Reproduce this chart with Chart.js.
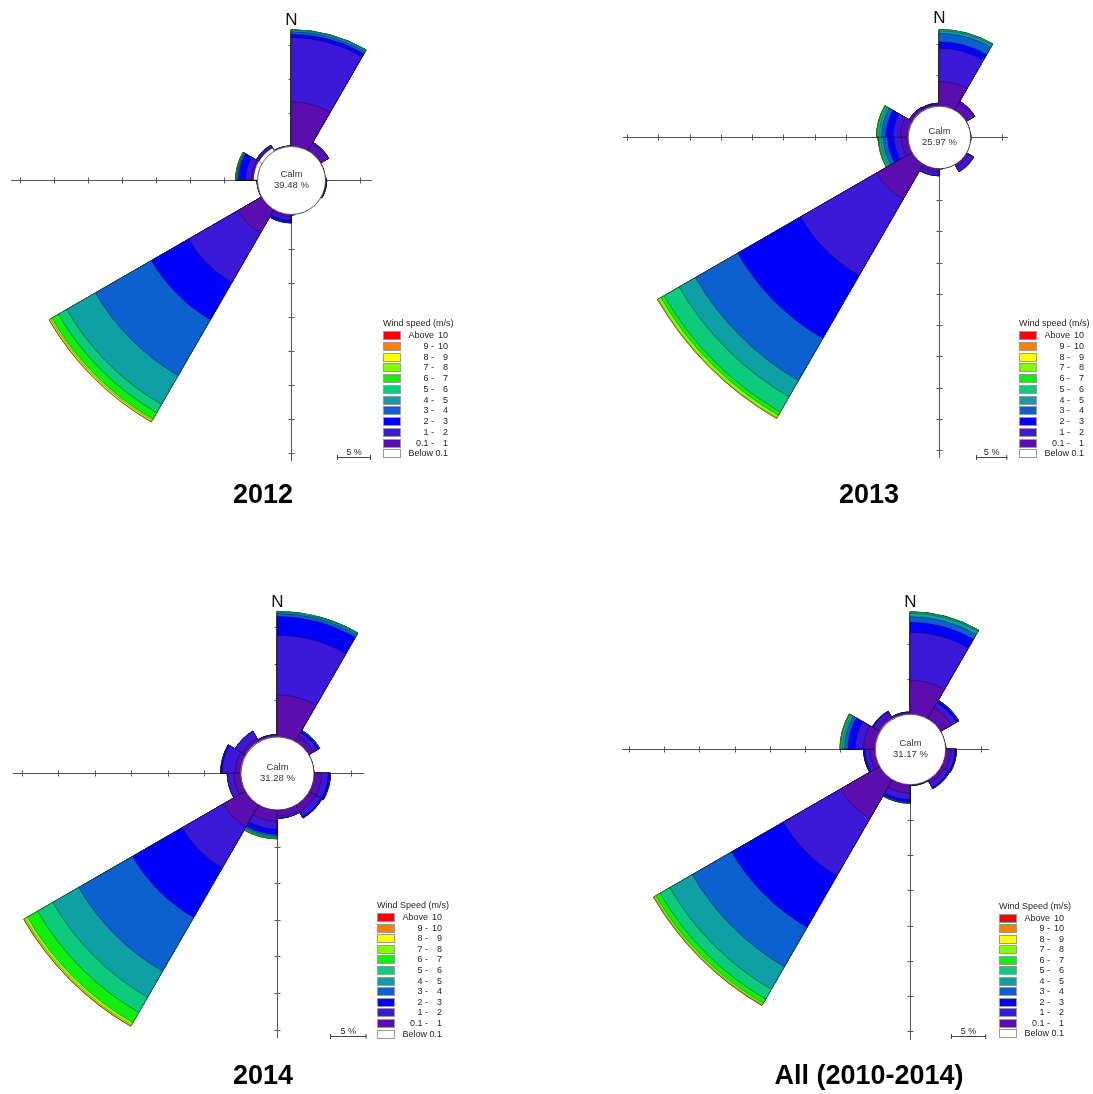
<!DOCTYPE html>
<html>
<head>
<meta charset="utf-8">
<title>Wind roses 2010-2014</title>
<script src="https://cdn.jsdelivr.net/npm/chart.js@4.4.1/dist/chart.umd.min.js"></script>
<style>
  html, body { margin: 0; padding: 0; background: #fff; }
  #page { position: relative; width: 1093px; height: 1094px; overflow: hidden; }
  #page canvas { position: absolute; left: 0; top: 0; }
  .year {
    position: absolute;
    font: bold 27px "Liberation Sans", Arial, sans-serif;
    color: #000;
    transform: translate(-50%, -50%);
    white-space: nowrap;
  }
</style>
</head>
<body>
<div id="page">
  <canvas id="rose2012" width="1093" height="1094"></canvas>
  <canvas id="rose2013" width="1093" height="1094"></canvas>
  <canvas id="rose2014" width="1093" height="1094"></canvas>
  <canvas id="roseAll" width="1093" height="1094"></canvas>
  <div class="year" style="left:263px; top:494px;">2012</div>
  <div class="year" style="left:869px; top:494px;">2013</div>
  <div class="year" style="left:263px; top:1075px;">2014</div>
  <div class="year" style="left:869px; top:1075px;">All (2010-2014)</div>
</div>

<script>
// ==============================
// DATOS
// ==============================
// 12 sectores de 30 grados, empezando en el norte y en sentido horario
const sectors = ["0-30", "30-60", "60-90", "90-120", "120-150", "150-180",
                 "180-210", "210-240", "240-270", "270-300", "300-330", "330-360"];

const speedClasses = ["Below 0.1", "0.1 - 1", "1 - 2", "2 - 3", "3 - 4", "4 - 5",
                      "5 - 6", "6 - 7", "7 - 8", "8 - 9", "9 - 10", "Above 10"];

const speedColors = ["#ffffff", "#5b0db0", "#3c18d8", "#0000ff", "#0c60d0", "#0ea0a4",
                     "#0ccb7c", "#10f010", "#80ff00", "#ffff00", "#ff8000", "#ff0000"];

const tickStep = 5; // %

// frecuencia (%) por clase de velocidad, un valor por sector
// --- 2012 ---
const calm2012 = 39.48;
const f2012_b01 = [0, 0, 0, 0, 0, 0, 0, 0, 0, 0.5, 0.45, 0];
const f2012_c1  = [6.5, 1.2, 0, 0.1, 0, 0, 0.4, 4.0, 0, 0.3, 0.1, 0];
const f2012_c2  = [9.45, 0.2, 0, 0.15, 0, 0, 0.5, 8.4, 0, 0.9, 0.3, 0];
const f2012_c3  = [0.5, 0, 0, 0, 0, 0, 0.35, 6.3, 0, 1.0, 0.05, 0];
const f2012_c4  = [0.35, 0, 0, 0, 0, 0, 0.05, 9.5, 0, 0.15, 0, 0];
const f2012_c5  = [0.25, 0, 0, 0, 0, 0, 0, 4.9, 0, 0.1, 0, 0];
const f2012_c6  = [0.05, 0, 0, 0, 0, 0, 0, 1.4, 0, 0.1, 0, 0];
const f2012_c7  = [0, 0, 0, 0, 0, 0, 0, 1.1, 0, 0.1, 0, 0];
const f2012_c8  = [0, 0, 0, 0, 0, 0, 0, 0.25, 0, 0, 0, 0];
const f2012_c9  = [0, 0, 0, 0, 0, 0, 0, 0.2, 0, 0, 0, 0];
const f2012_c10 = [0, 0, 0, 0, 0, 0, 0, 0.05, 0, 0, 0, 0];
const f2012_c11 = [0, 0, 0, 0, 0, 0, 0, 0, 0, 0, 0, 0];

// --- 2013 ---
const calm2013 = 25.97;
const f2013_b01 = [0, 0, 0, 0, 0, 0, 0, 0, 0, 0, 0, 0];
const f2013_c1  = [3.9, 1.3, 0, 0, 0.5, 0, 0.6, 6.5, 1.0, 1.2, 0.5, 0.2];
const f2013_c2  = [5.3, 0.3, 0, 0, 0.9, 0, 0.6, 14.1, 1.2, 1.2, 0, 0.2];
const f2013_c3  = [1.05, 0, 0, 0, 0, 0, 0, 11.6, 1.0, 1.1, 0, 0];
const f2013_c4  = [1.35, 0, 0, 0, 0, 0, 0, 7.8, 0.7, 0.7, 0, 0];
const f2013_c5  = [0.4, 0, 0, 0, 0, 0, 0, 3.0, 0.4, 0.4, 0, 0];
const f2013_c6  = [0.2, 0, 0, 0, 0, 0, 0, 2.8, 0.3, 0.3, 0, 0];
const f2013_c7  = [0, 0, 0, 0, 0, 0, 0, 0.6, 0.1, 0.1, 0, 0];
const f2013_c8  = [0, 0, 0, 0, 0, 0, 0, 0.5, 0, 0, 0, 0];
const f2013_c9  = [0, 0, 0, 0, 0, 0, 0, 0.1, 0, 0, 0, 0];
const f2013_c10 = [0, 0, 0, 0, 0, 0, 0, 0, 0, 0, 0, 0];
const f2013_c11 = [0, 0, 0, 0, 0, 0, 0, 0, 0, 0, 0, 0];

// --- 2014 ---
const calm2014 = 31.28;
const f2014_b01 = [0, 0, 0, 0, 0, 0, 0, 0, 0, 0, 0, 0];
const f2014_c1  = [5.7, 0.8, 0, 1.1, 1.1, 0.9, 1.6, 3.5, 0.9, 0.7, 0.5, 0.25];
const f2014_c2  = [8.15, 0.6, 0, 0.9, 0.8, 0.3, 1.1, 6.5, 0.9, 1.8, 1.1, 0];
const f2014_c3  = [2.55, 0.2, 0, 0.3, 0.2, 0, 0.7, 7.8, 0, 0.2, 0, 0];
const f2014_c4  = [0.4, 0.1, 0, 0, 0, 0, 0.2, 8.5, 0, 0, 0, 0];
const f2014_c5  = [0.2, 0.05, 0, 0, 0, 0, 0.15, 4.1, 0, 0, 0, 0];
const f2014_c6  = [0.1, 0, 0, 0, 0, 0, 0.15, 2.4, 0, 0, 0, 0];
const f2014_c7  = [0, 0, 0, 0, 0, 0, 0.1, 1.6, 0, 0, 0, 0];
const f2014_c8  = [0, 0, 0, 0, 0, 0, 0, 0.4, 0, 0, 0, 0];
const f2014_c9  = [0, 0, 0, 0, 0, 0, 0, 0.15, 0, 0, 0, 0];
const f2014_c10 = [0, 0, 0, 0, 0, 0, 0, 0.05, 0, 0, 0, 0];
const f2014_c11 = [0, 0, 0, 0, 0, 0, 0, 0, 0, 0, 0, 0];

// --- All (2010-2014) ---
const calmAll = 31.17;
const fAll_b01 = [0, 0, 0, 0, 0, 0, 0, 0, 0, 0, 0, 0];
const fAll_c1  = [4.76, 1.8, 0, 0.8, 0.6, 0.15, 1.27, 6.4, 0.7, 1.6, 0.6, 0.15];
const fAll_c2  = [6.84, 0.8, 0, 0.6, 0.7, 0.05, 0.93, 9.4, 0.7, 1.2, 0.5, 0.1];
const fAll_c3  = [1.4, 0.3, 0, 0.2, 0.2, 0, 0.35, 8.45, 0.2, 1.0, 0.1, 0];
const fAll_c4  = [0.8, 0.1, 0, 0, 0, 0, 0.1, 6.45, 0, 0.5, 0, 0];
const fAll_c5  = [0.5, 0, 0, 0, 0, 0, 0.05, 3.7, 0, 0.3, 0, 0];
const fAll_c6  = [0.15, 0, 0, 0, 0, 0, 0, 1.6, 0, 0.25, 0, 0];
const fAll_c7  = [0.05, 0, 0, 0, 0, 0, 0, 0.7, 0, 0.1, 0, 0];
const fAll_c8  = [0, 0, 0, 0, 0, 0, 0, 0.25, 0, 0, 0, 0];
const fAll_c9  = [0, 0, 0, 0, 0, 0, 0, 0.1, 0, 0, 0, 0];
const fAll_c10 = [0, 0, 0, 0, 0, 0, 0, 0.03, 0, 0, 0, 0];
const fAll_c11 = [0, 0, 0, 0, 0, 0, 0, 0, 0, 0, 0, 0];

// longitud de los ejes (%): arriba, derecha, abajo, izquierda
const axis2012 = [17.0, 6.9, 36.2, 36.3];
const axis2013 = [12.3, 6.0, 46.3, 45.7];
const axis2014 = [17.0, 6.8, 31.1, 31.1];
const axisAll  = [14.4, 6.1, 36.2, 36.0];


// ==============================
// DECORACION: ejes, calma, N, escala, leyenda
// ==============================
const FONT = "'Liberation Sans', Arial, sans-serif";

const roseDecor = {
    id: "roseDecor",
    beforeDatasetsDraw(chart, args, o) {
        const r = chart.scales.r;
        const ctx = chart.ctx;
        const cx = r.xCenter + 0.5;
        const cy = r.yCenter + 0.5;
        const dist = v => r.getDistanceFromCenterForValue(v);
        const [up, right, down, left] = o.axis;

        ctx.save();
        ctx.strokeStyle = "#555";
        ctx.lineWidth = 1;
        ctx.beginPath();
        ctx.moveTo(cx, Math.round(cy - dist(up)));
        ctx.lineTo(cx, Math.round(cy + dist(down)));
        ctx.moveTo(Math.round(cx - dist(left)), cy);
        ctx.lineTo(Math.round(cx + dist(right)), cy);

        for (let v = 0; v <= up; v += tickStep) {
            const y = Math.round(cy - dist(v)) + 0.5;
            ctx.moveTo(cx - 3, y); ctx.lineTo(cx + 3, y);
        }
        for (let v = 0; v <= down; v += tickStep) {
            const y = Math.round(cy + dist(v)) + 0.5;
            ctx.moveTo(cx - 3, y); ctx.lineTo(cx + 3, y);
        }
        for (let v = 0; v <= left; v += tickStep) {
            const x = Math.round(cx - dist(v)) + 0.5;
            ctx.moveTo(x, cy - 3); ctx.lineTo(x, cy + 3);
        }
        for (let v = 0; v <= right; v += tickStep) {
            const x = Math.round(cx + dist(v)) + 0.5;
            ctx.moveTo(x, cy - 3); ctx.lineTo(x, cy + 3);
        }
        ctx.stroke();

        // N
        ctx.fillStyle = "#111";
        ctx.font = "17px " + FONT;
        ctx.textAlign = "center";
        ctx.textBaseline = "alphabetic";
        ctx.fillText("N", cx, cy - dist(up) - 6);
        ctx.restore();
    },
    afterDatasetsDraw(chart, args, o) {
        const r = chart.scales.r;
        const ctx = chart.ctx;
        const cx = r.xCenter + 0.5;
        const cy = r.yCenter + 0.5;
        const dist = v => r.getDistanceFromCenterForValue(v);

        ctx.save();
        // circulo de calma
        ctx.beginPath();
        ctx.arc(cx, cy, dist(0), 0, Math.PI * 2);
        ctx.fillStyle = "#fff";
        ctx.fill();
        ctx.strokeStyle = "#333";
        ctx.lineWidth = 0.8;
        ctx.stroke();

        ctx.fillStyle = "#333";
        ctx.font = "9.5px " + FONT;
        ctx.textAlign = "center";
        ctx.textBaseline = "middle";
        ctx.fillText("Calm", cx, cy - 6);
        ctx.fillText(o.calm.toFixed(2) + " %", cx, cy + 5);

        // barra de escala 5 %
        const [bx, by] = o.bar;
        const bw = dist(tickStep) - dist(0);
        ctx.strokeStyle = "#444";
        ctx.lineWidth = 1;
        ctx.beginPath();
        ctx.moveTo(bx, by + 0.5); ctx.lineTo(bx + bw, by + 0.5);
        ctx.moveTo(bx + 0.5, by - 2); ctx.lineTo(bx + 0.5, by + 3);
        ctx.moveTo(bx + bw - 0.5, by - 2); ctx.lineTo(bx + bw - 0.5, by + 3);
        ctx.stroke();
        ctx.fillStyle = "#222";
        ctx.font = "9px " + FONT;
        ctx.textBaseline = "alphabetic";
        ctx.fillText(tickStep + " %", bx + bw / 2, by - 2);

        // leyenda
        const [lx, ly, pitch] = o.legend;
        ctx.textAlign = "left";
        ctx.textBaseline = "middle";
        ctx.fillText(o.legendTitle, lx, ly - 7);
        const n = speedClasses.length;
        for (let i = 0; i < n; i++) {
            const k = n - 1 - i;
            const y = Math.round(ly + i * pitch);
            ctx.fillStyle = speedColors[k];
            ctx.fillRect(lx, y, 18, 9);
            ctx.strokeStyle = "#999";
            ctx.lineWidth = 1;
            ctx.strokeRect(lx + 0.5, y + 0.5, 17, 8);

            ctx.fillStyle = "#222";
            ctx.textAlign = "right";
            const lab = speedClasses[k];
            if (lab.startsWith("Below")) {
                ctx.fillText(lab, lx + 65, y + 5);
            } else if (lab.startsWith("Above")) {
                ctx.fillText("Above", lx + 51, y + 5);
                ctx.fillText(lab.split(" ")[1], lx + 65, y + 5);
            } else {
                const parts = lab.split(" - ");
                ctx.fillText(parts[0] + " -", lx + 51, y + 5);
                ctx.fillText(parts[1], lx + 65, y + 5);
            }
        }
        ctx.restore();
    }
};


// ==============================
// ROSAS DE LOS VIENTOS
// ==============================
function drawRose(cfg) {
    const W = 1093, H = 1094;
    const [cx, cy] = cfg.center;
    const R = (cfg.max + tickStep) * cfg.pxPerUnit;

    // apilar las clases: cada dataset llega hasta el acumulado de su clase
    let acc = sectors.map(() => 0);
    const datasets = cfg.series.map((serie, k) => {
        acc = acc.map((a, i) => a + serie[i]);
        return {
            label: speedClasses[k],
            data: acc.slice(),
            backgroundColor: speedColors[k],
            borderColor: "rgba(0,0,0,0.55)",
            borderWidth: 0.6
        };
    });

    new Chart(document.getElementById(cfg.id), {
        type: "polarArea",
        data: { labels: sectors, datasets: datasets },
        options: {
            responsive: false,
            animation: false,
            events: [],
            layout: {
                padding: { left: cx - R, top: cy - R, right: W - cx - R, bottom: H - cy - R }
            },
            scales: {
                r: {
                    min: -tickStep,
                    max: cfg.max,
                    startAngle: 0,
                    ticks: { display: false, stepSize: tickStep },
                    grid: { display: false },
                    angleLines: { display: false },
                    pointLabels: { display: false }
                }
            },
            plugins: {
                legend: { display: false },
                tooltip: { enabled: false },
                roseDecor: {
                    calm: cfg.calm,
                    axis: cfg.axis,
                    bar: cfg.bar,
                    legend: cfg.legend,
                    legendTitle: cfg.legendTitle
                }
            }
        },
        plugins: [roseDecor]
    });
}

drawRose({
    id: "rose2012", calm: calm2012, axis: axis2012,
    series: [f2012_b01, f2012_c1, f2012_c2, f2012_c3, f2012_c4, f2012_c5,
             f2012_c6, f2012_c7, f2012_c8, f2012_c9, f2012_c10, f2012_c11],
    center: [291, 180], pxPerUnit: 6.8, max: 20,
    bar: [337, 457], legend: [383, 331, 10.75], legendTitle: "Wind speed (m/s)"
});

drawRose({
    id: "rose2013", calm: calm2013, axis: axis2013,
    series: [f2013_b01, f2013_c1, f2013_c2, f2013_c3, f2013_c4, f2013_c5,
             f2013_c6, f2013_c7, f2013_c8, f2013_c9, f2013_c10, f2013_c11],
    center: [939, 137], pxPerUnit: 6.27, max: 15,
    bar: [976, 457], legend: [1019, 331, 10.75], legendTitle: "Wind speed (m/s)"
});

drawRose({
    id: "rose2014", calm: calm2014, axis: axis2014,
    series: [f2014_b01, f2014_c1, f2014_c2, f2014_c3, f2014_c4, f2014_c5,
             f2014_c6, f2014_c7, f2014_c8, f2014_c9, f2014_c10, f2014_c11],
    center: [277, 773], pxPerUnit: 7.34, max: 30,
    bar: [330, 1036], legend: [377, 913, 10.6], legendTitle: "Wind Speed (m/s)"
});

drawRose({
    id: "roseAll", calm: calmAll, axis: axisAll,
    series: [fAll_b01, fAll_c1, fAll_c2, fAll_c3, fAll_c4, fAll_c5,
             fAll_c6, fAll_c7, fAll_c8, fAll_c9, fAll_c10, fAll_c11],
    center: [910, 749], pxPerUnit: 7.07, max: 20,
    bar: [951, 1036], legend: [999, 914, 10.45], legendTitle: "Wind Speed (m/s)"
});
</script>
</body>
</html>
